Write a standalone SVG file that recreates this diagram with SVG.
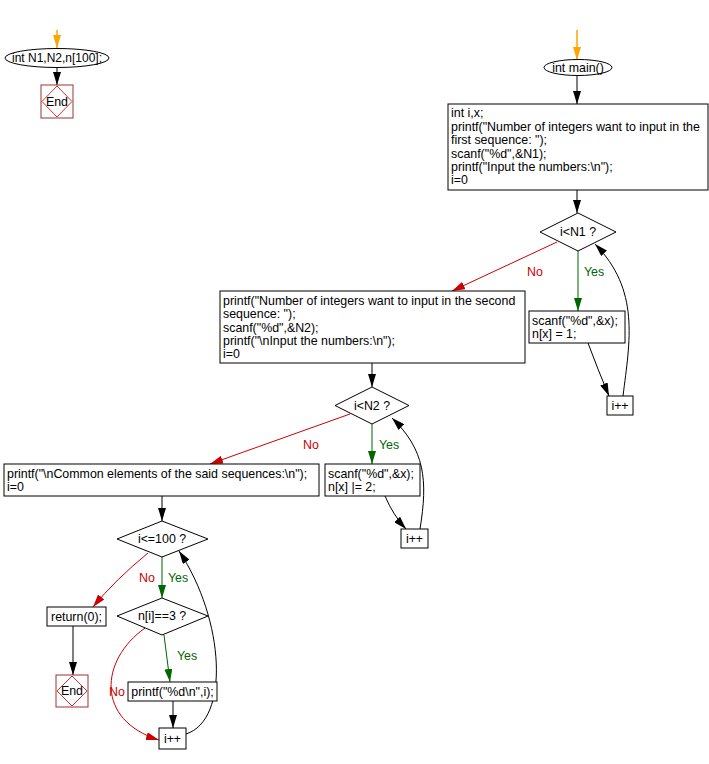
<svg xmlns="http://www.w3.org/2000/svg" width="709" height="764" viewBox="0 0 709 764">
<defs>
<marker id="ab" viewBox="0 0 13 8" refX="13" refY="4" markerWidth="13" markerHeight="8" markerUnits="userSpaceOnUse" orient="auto"><path d="M0,0 L13,4 L0,8 z" fill="#000"/></marker>
<marker id="ag" viewBox="0 0 13 8" refX="13" refY="4" markerWidth="13" markerHeight="8" markerUnits="userSpaceOnUse" orient="auto"><path d="M0,0 L13,4 L0,8 z" fill="#006600"/></marker>
<marker id="ar" viewBox="0 0 13 8" refX="13" refY="4" markerWidth="13" markerHeight="8" markerUnits="userSpaceOnUse" orient="auto"><path d="M0,0 L13,4 L0,8 z" fill="#cc0000"/></marker>
<marker id="ao" viewBox="0 0 13 8" refX="13" refY="4" markerWidth="13" markerHeight="8" markerUnits="userSpaceOnUse" orient="auto"><path d="M0,0 L13,4 L0,8 z" fill="#ffa500"/></marker>
</defs>
<style>
text{font-family:"Liberation Sans",Arial,sans-serif;font-size:12.4px;fill:#000}
.c{text-anchor:middle}
.box{fill:#fff;stroke:#000;stroke-width:1}
.endb{fill:#fff;stroke:#993333;stroke-width:1}
.endd{fill:none;stroke:#cc3333;stroke-width:1}
.k{fill:none;stroke:#000;stroke-width:1;marker-end:url(#ab)}
.g{fill:none;stroke:#006600;stroke-width:1;marker-end:url(#ag)}
.r{fill:none;stroke:#cc0000;stroke-width:1;marker-end:url(#ar)}
.o{fill:none;stroke:#ffa500;stroke-width:1.5;marker-end:url(#ao)}
.lg{fill:#006600}
.lr{fill:#cc0000}
</style>
<rect width="709" height="764" fill="#fff"/>
<g id="connectors">
<path class="o" d="M57,30 L57,48"/>
<path class="k" d="M57,68 L57,85"/>
<path class="o" d="M577,30 L577,60"/>
<path class="k" d="M577,76 L577,104"/>
<path class="k" d="M577,190 L577,213"/>
<path class="g" d="M578,251 L578,311"/>
<path class="r" d="M557,242 L452,291"/>
<path class="k" d="M588,343 Q598,370 609,396"/>
<path class="k" d="M623,396 C630,340 640,290 595,244"/>
<path class="k" d="M372,363 L372,387"/>
<path class="r" d="M350,414 L210,464"/>
<path class="g" d="M372,424 L372,464"/>
<path class="k" d="M385,496 Q393,515 406,529"/>
<path class="k" d="M420,529 C428,480 425,450 392,418"/>
<path class="k" d="M162,496 L162,521"/>
<path class="r" d="M148,553 Q115,580 93,607"/>
<path class="g" d="M162,557 L162,598"/>
<path class="k" d="M73,626 L73,675"/>
<path class="g" d="M164,635 L170,682"/>
<path class="r" d="M145,628 C100,660 95,720 159,740"/>
<path class="k" d="M173,701 L173,728"/>
<path class="k" d="M186,734 C230,720 225,620 179,551"/>
<text class="lr" x="535" y="276" text-anchor="middle">No</text>
<text class="lg" x="594" y="276" text-anchor="middle">Yes</text>
<text class="lr" x="311" y="449" text-anchor="middle">No</text>
<text class="lg" x="389" y="449" text-anchor="middle">Yes</text>
<text class="lr" x="147" y="582" text-anchor="middle">No</text>
<text class="lg" x="178" y="582" text-anchor="middle">Yes</text>
<text class="lg" x="187" y="660" text-anchor="middle">Yes</text>
<text class="lr" x="117" y="696" text-anchor="middle">No</text>
</g>
<g id="start1">
<ellipse cx="57" cy="58" rx="52" ry="9.5" class="box"/>
<text class="c" x="57" y="62" textLength="90" lengthAdjust="spacingAndGlyphs">int N1,N2,n[100];</text>
</g>
<g id="end1">
<rect x="41" y="85" width="32" height="33" class="endb"/>
<polygon points="57,86 72,101.5 57,117 42,101.5" class="endd"/>
<text class="c" x="57" y="106">End</text>
</g>
<g id="start2">
<ellipse cx="578" cy="67.5" rx="34" ry="8" class="box"/>
<text class="c" x="578" y="72">int main()</text>
</g>
<g id="box1">
<rect x="448" y="104" width="260" height="86" class="box"/>
<text x="451" y="117">int i,x;</text>
<text x="451" y="131">printf("Number of integers want to input in the</text>
<text x="451" y="144">first sequence: ");</text>
<text x="451" y="158">scanf("%d",&amp;N1);</text>
<text x="451" y="171">printf("Input the numbers:\n");</text>
<text x="451" y="184">i=0</text>
</g>
<g id="cond1">
<polygon points="578,213 616,232 578,251 540,232" class="box"/>
<text class="c" x="578" y="236">i&lt;N1 ?</text>
</g>
<g id="scan1">
<rect x="529" y="311" width="96" height="32" class="box"/>
<text x="532" y="325">scanf("%d",&amp;x);</text>
<text x="532" y="338">n[x] = 1;</text>
</g>
<g id="inc1">
<rect x="607" y="396" width="26" height="19" class="box"/>
<text class="c" x="620" y="410">i++</text>
</g>
<g id="box2">
<rect x="220" y="291" width="305" height="72" class="box"/>
<text x="223" y="305">printf("Number of integers want to input in the second</text>
<text x="223" y="318">sequence: ");</text>
<text x="223" y="332">scanf("%d",&amp;N2);</text>
<text x="223" y="345">printf("\nInput the numbers:\n");</text>
<text x="223" y="358">i=0</text>
</g>
<g id="cond2">
<polygon points="372,387 409,405.5 372,424 335,405.5" class="box"/>
<text class="c" x="372" y="410">i&lt;N2 ?</text>
</g>
<g id="scan2">
<rect x="325" y="464" width="95" height="32" class="box"/>
<text x="328" y="478">scanf("%d",&amp;x);</text>
<text x="328" y="491">n[x] |= 2;</text>
</g>
<g id="inc2">
<rect x="401" y="529" width="27" height="19" class="box"/>
<text class="c" x="414.5" y="543">i++</text>
</g>
<g id="box3">
<rect x="4" y="464" width="315" height="32" class="box"/>
<text x="7" y="478">printf("\nCommon elements of the said sequences:\n");</text>
<text x="7" y="491">i=0</text>
</g>
<g id="cond3">
<polygon points="162,521 208,539 162,557 117,539" class="box"/>
<text class="c" x="162" y="543">i&lt;=100 ?</text>
</g>
<g id="ret">
<rect x="47" y="607" width="59" height="19" class="box"/>
<text class="c" x="76.5" y="621">return(0);</text>
</g>
<g id="end2">
<rect x="56" y="675" width="32" height="32" class="endb"/>
<polygon points="72,676 87,691 72,706 57,691" class="endd"/>
<text class="c" x="72" y="695">End</text>
</g>
<g id="cond4">
<polygon points="162,598 208,616 162,635 117,616" class="box"/>
<text class="c" x="162" y="620">n[i]==3 ?</text>
</g>
<g id="print">
<rect x="128" y="682" width="89" height="19" class="box"/>
<text class="c" x="172.5" y="696">printf("%d\n",i);</text>
</g>
<g id="inc3">
<rect x="159" y="728" width="27" height="21" class="box"/>
<text class="c" x="172.5" y="743">i++</text>
</g>
</svg>
